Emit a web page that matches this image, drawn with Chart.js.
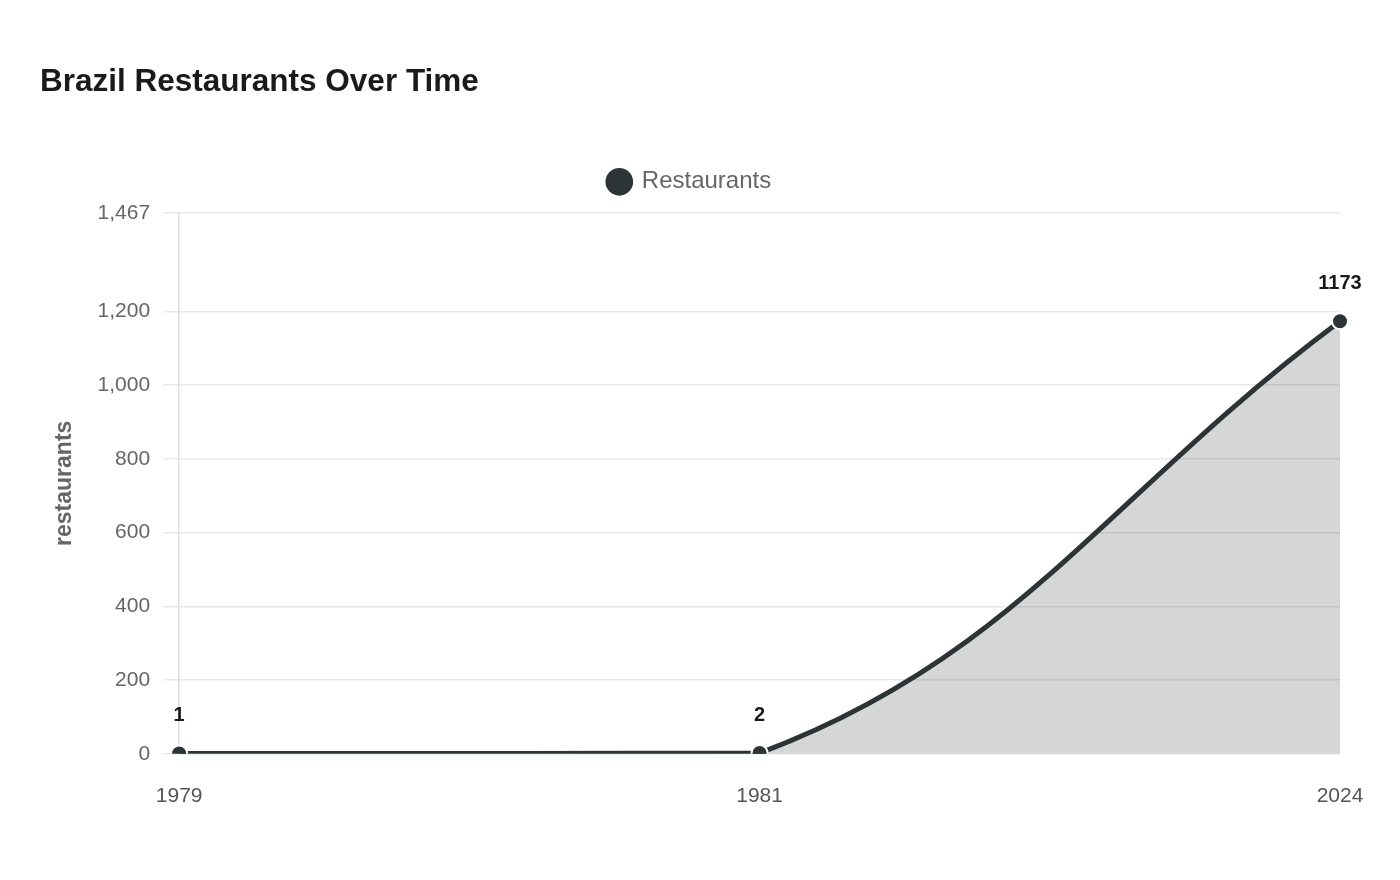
<!DOCTYPE html>
<html>
<head>
<meta charset="utf-8">
<script src="https://cdn.jsdelivr.net/npm/chart.js@4/dist/chart.umd.min.js"></script>
<style>
  html, body { margin: 0; padding: 0; background: #fff; }
  #wrap { width: 1400px; height: 880px; }
</style>
</head>
<body>
<div id="wrap"><canvas id="chart"></canvas></div>
<script>
// data
const years = ['1979', '1981', '2024'];
const restaurants = [1, 2, 1173];
const yTicks = [0, 200, 400, 600, 800, 1000, 1200, 1467];
const yMax = 1467;

const FONT = '"Liberation Sans", Arial, sans-serif';
const lineColor = '#2d3436';

// simple value labels above each point
const pointLabels = {
  id: 'pointLabels',
  afterDatasetsDraw(chart) {
    const ctx = chart.ctx;
    const meta = chart.getDatasetMeta(0);
    ctx.save();
    ctx.font = 'bold 20px ' + FONT;
    ctx.fillStyle = '#1a1a1a';
    ctx.textAlign = 'center';
    ctx.textBaseline = 'middle';
    meta.data.forEach((pt, i) => {
      ctx.fillText(String(restaurants[i]), pt.x, pt.y - 38);
    });
    ctx.restore();
  }
};

// a bit more room under the legend
const legendGap = {
  id: 'legendGap',
  beforeLayout(chart) {
    const lg = chart.legend;
    if (lg && !lg._gapPatched) {
      const fit = lg.fit.bind(lg);
      lg.fit = function () { fit(); this.height += 9; };
      lg._gapPatched = true;
    }
  }
};

const ctx = document.getElementById('chart').getContext('2d');

const chart = new Chart(ctx, {
  type: 'line',
  data: {
    labels: years,
    datasets: [{
      label: 'Restaurants',
      data: restaurants,
      borderColor: lineColor,
      backgroundColor: 'rgba(45, 52, 54, 0.2)',
      borderWidth: 5,
      fill: 'origin',
      tension: 0.4,
      pointRadius: 8,
      pointBorderWidth: 2,
      pointBorderColor: '#ffffff',
      pointBackgroundColor: lineColor,
      clip: { left: false, top: false, right: false, bottom: 0 }
    }]
  },
  options: {
    responsive: true,
    maintainAspectRatio: false,
    animation: false,
    layout: {
      padding: { left: 40, right: 60, top: 63, bottom: 49 }
    },
    plugins: {
      title: {
        display: true,
        text: 'Brazil Restaurants Over Time',
        align: 'start',
        color: '#1a1a1a',
        font: { family: FONT, size: 31.5, weight: 'bold' },
        padding: { top: 0, bottom: 51 }
      },
      legend: {
        display: true,
        labels: {
          usePointStyle: true,
          pointStyle: 'circle',
          boxWidth: 21,
          boxHeight: 21,
          color: '#666666',
          font: { family: FONT, size: 24 },
          padding: 18
        }
      },
      tooltip: { enabled: false }
    },
    scales: {
      x: {
        offset: false,
        grid: { display: false },
        border: { display: false },
        ticks: {
          color: '#555555',
          font: { family: FONT, size: 21 },
          padding: 22,
          maxRotation: 0
        }
      },
      y: {
        min: 0,
        max: yMax,
        afterBuildTicks(scale) {
          scale.ticks = yTicks.map(v => ({ value: v }));
        },
        grid: { color: '#e8e8e8', lineWidth: 1.5, tickLength: 16 },
        border: { display: true, color: '#e0e0e0', width: 1.5 },
        ticks: {
          color: '#666666',
          font: { family: FONT, size: 21 },
          padding: 13,
          callback: v => v.toLocaleString('en-US')
        },
        title: {
          display: true,
          text: 'restaurants',
          color: '#666666',
          font: { family: FONT, size: 23, weight: 'bold' },
          padding: { top: 11, bottom: 6 }
        }
      }
    }
  },
  plugins: [pointLabels, legendGap]
});
</script>
</body>
</html>
